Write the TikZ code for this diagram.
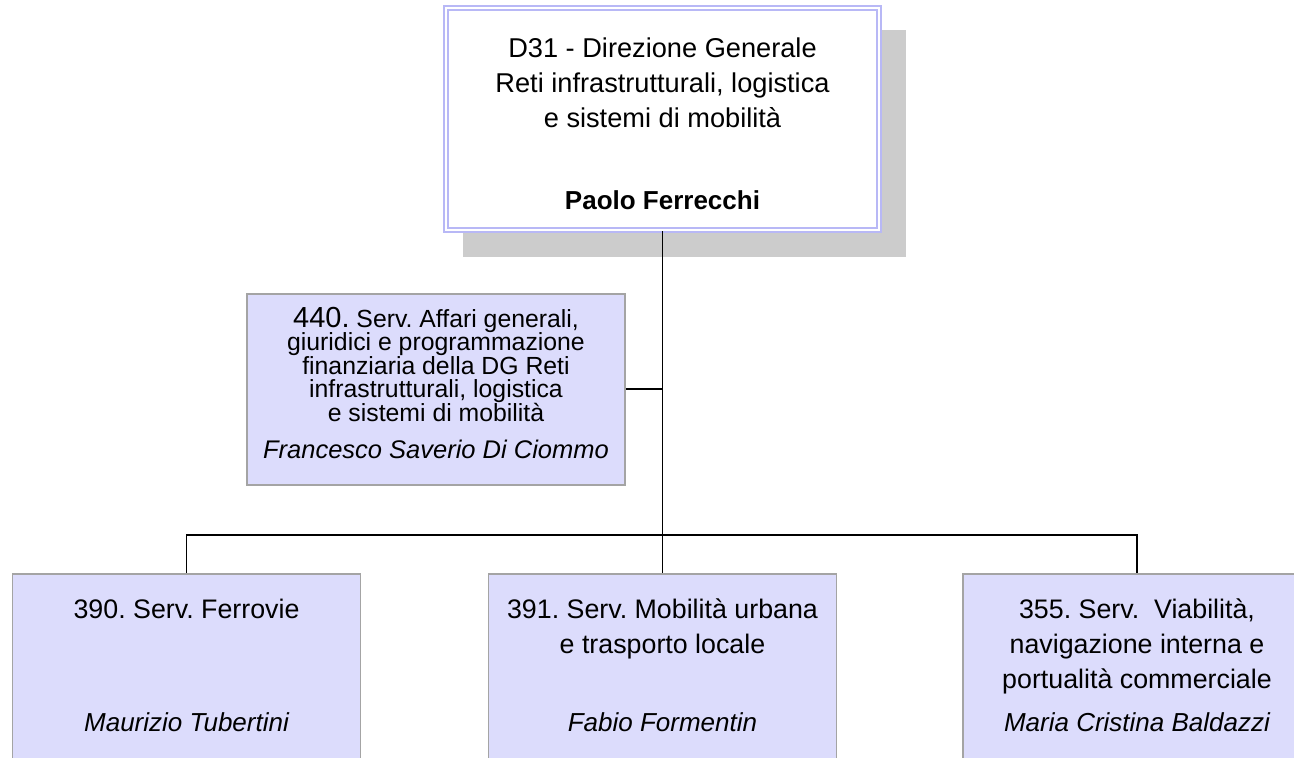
\documentclass[tikz,border=0pt]{standalone}
\usepackage{fontspec}
\setmainfont{Liberation Sans}
\usetikzlibrary{positioning,shadows}
\definecolor{unitfill}{HTML}{DCDCFC}
\definecolor{unitline}{HTML}{A4A4A4}
\definecolor{headline}{HTML}{B8B8F6}
\definecolor{shadowgray}{HTML}{CCCCCC}
\frenchspacing

\begin{document}
\begin{tikzpicture}[x=1pt, y=-1pt,
  unit/.style = {draw=unitline, fill=unitfill, line width=1.6pt,
      minimum width=348pt, minimum height=230pt, inner sep=0pt, anchor=north},
  head/.style = {draw=headline, double=white, double distance=2.2pt,
      line width=2pt, fill=white, minimum width=433pt, minimum height=222pt,
      inner sep=0pt,
      general shadow={shadow xshift=21.5pt, shadow yshift=-24pt,
                      shadow scale=1.025, fill=shadowgray, opacity=1}},
  txt/.style  = {font=\fontsize{26.8}{35}\selectfont, align=center,
      inner sep=0pt, anchor=north},
  who/.style  = {font=\fontsize{26}{35}\selectfont\itshape, inner sep=0pt},
  wire/.style = {draw=black, line width=1.9pt}
  ]
  \useasboundingbox (0,0) rectangle (1294,758);
  \clip (0,0) rectangle (1294,758);
  % direzione generale
  \node[head] (dg) at (662.5,119) {};
  \node[txt, font=\fontsize{27.2}{35}\selectfont] (dgtxt) at (662.5,37.5) {D31 - Direzione Generale\\
    Reti infrastrutturali, logistica\\ e sistemi di mobilità};
  \node[who, font=\fontsize{26}{35}\selectfont\bfseries] (dgwho) at (662.5,200) {Paolo Ferrecchi};
  % staff unit
  \node[unit, minimum width=378pt, minimum height=191pt] (s440) at (436,293) {};
  \node[txt, font=\fontsize{24.8}{23.3}\selectfont] (s440txt) at (436,307)
    {{\fontsize{29}{23.3}\selectfont 440.} Serv. Affari generali,\\
     giuridici e programmazione\\ finanziaria della DG Reti\\
     infrastrutturali, logistica\\ e sistemi di mobilità};
  \node[who, font=\fontsize{25.5}{24}\selectfont\itshape] (s440who) at (436,449) {Francesco Saverio Di Ciommo};
  % services
  \node[unit] (s390) at (186.5,573) {};
  \node[unit] (s391) at (662.5,573) {};
  \node[unit] (s355) at (1137,573) {};
  \node[txt] (s390txt) at (186.5,599) {390. Serv. Ferrovie};
  \node[txt] (s391txt) at (662.5,599) {391. Serv. Mobilità urbana\\ e trasporto locale};
  \node[txt] (s355txt) at (1137,599) {355. Serv.\ \ Viabilità,\\
    navigazione interna e\\ portualità commerciale};
  \node[who] (s390who) at (186.5,722) {Maurizio Tubertini};
  \node[who] (s391who) at (662.5,722) {Fabio Formentin};
  \node[who] (s355who) at (1137,722) {Maria Cristina Baldazzi};
  % connectors
  \coordinate (hub) at (dg.south |- 0,535);
  \draw[wire] (dg.south) -- (hub);
  \draw[wire] (s440.east) -- (s440.east -| dg.south);
  \draw[wire] (s390.north) |- (hub) -| (s355.north);
  \draw[wire] (hub) -- (s391.north);
\end{tikzpicture}
\end{document}
